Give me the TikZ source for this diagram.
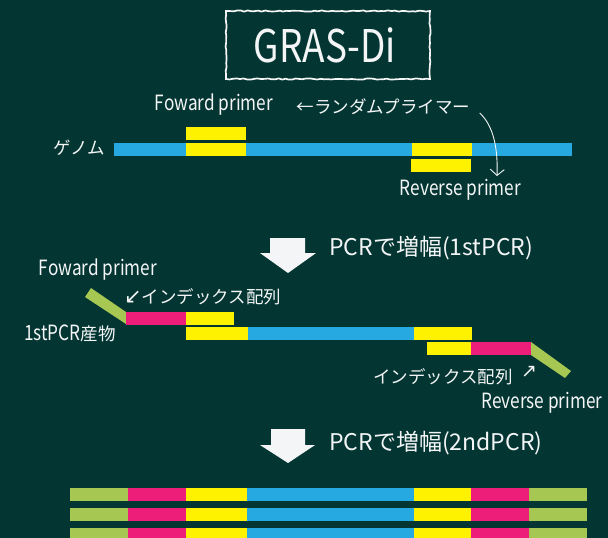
\documentclass[tikz,border=0pt]{standalone}
\usepackage{fontspec}
\setmainfont{Noto Sans CJK JP}
\newfontfamily\latinfont{Noto Sans CJK JP}[FakeStretch=0.82]
\newfontfamily\symfont{DejaVu Sans}
\usetikzlibrary{arrows.meta,calc,decorations.pathmorphing}

\definecolor{board}{RGB}{3,54,50}
\definecolor{chalk}{RGB}{244,245,246}
\definecolor{dnablue}{RGB}{38,169,224}
\definecolor{primeryellow}{RGB}{255,242,0}
\definecolor{indexpink}{RGB}{237,30,121}
\definecolor{adaptergreen}{RGB}{166,200,83}

% one strand segment: x from #1 to #2, top edge at #3, fill colour #4
\newcommand\strandseg[4]{\fill[#4] (#1,#3) rectangle (#2,#3+13);}
% narrow latin run inside a Japanese label
\newcommand\latinrun[1]{{\latinfont\fontsize{21}{22}\selectfont #1}}

\begin{document}
\begin{tikzpicture}[x=1pt,y=-1pt,
  txt/.style={text=chalk, inner sep=0pt},
  latinlabel/.style={txt, font=\latinfont\fontsize{21}{22}\selectfont},
  jplabel/.style={txt, font=\fontsize{17.5}{18}\selectfont},
  heading/.style={txt, anchor=west, font=\fontsize{23}{24}\selectfont},
  titletext/.style={txt, font=\latinfont\fontsize{45}{46}\selectfont},
  chalkframe/.style={draw=chalk, line width=1.7pt,
    decorate, decoration={random steps, segment length=3.5pt, amplitude=0.6pt}},
  bigarrow/.style={fill=chalk},
  pointer/.style={draw=chalk, line width=0.9pt,
    -{Straight Barb[length=6pt,width=14pt]}}]

\fill[board] (0,0) rectangle (608,538);
\useasboundingbox (0,0) rectangle (608,538);

% title
\pgfmathsetseed{7}
\node[titletext] (title) at (325,45) {GRAS-Di};
\draw[chalkframe] (226,11) rectangle (430,79);

% genome with random primers
\node[latinlabel] (fwd1) at (214,105) {Foward primer};
\node[jplabel] (rand) at (383.5,107) {←ランダムプライマー};
\node[jplabel] (genome) at (79,148) {ゲノム};
\node[latinlabel] (rev1) at (460.5,190) {Reverse primer};

\strandseg{114}{572}{143}{dnablue}
\strandseg{186}{246}{143}{primeryellow}
\strandseg{412}{472}{143}{primeryellow}
\strandseg{186}{246}{127}{primeryellow}
\strandseg{411}{471}{159}{primeryellow}

\draw[pointer] ($(rand.east)+(9,6)$) .. controls (494,126) and (498,150) .. (497,176);

% first PCR
\fill[bigarrow] (270,238) -- (305,238) -- (305,253) -- (316,253) -- (288,273)
  -- (260,253) -- (270,253) -- cycle;
\node[heading] (pcr1) at (329,248) {PCRで増幅(1stPCR)};

\node[latinlabel] (fwd2) at (98,270) {Foward primer};
\node[jplabel, anchor=west] (idx1) at (124,297) {{\symfont\fontsize{21}{22}\selectfont ↙}インデックス配列};
\node[jplabel] (prod) at (70,333) {\latinrun{1stPCR}産物};

\fill[adaptergreen] (85,297) -- (91,288) -- (126,312) -- (126,324) -- cycle;
\strandseg{126}{186}{312}{indexpink}
\strandseg{186}{234}{312}{primeryellow}

\strandseg{186}{248}{327}{primeryellow}
\strandseg{248}{414}{327}{dnablue}
\strandseg{414}{472}{327}{primeryellow}

\strandseg{427}{471}{342}{primeryellow}
\strandseg{471}{531}{342}{indexpink}
\fill[adaptergreen] (531,342) -- (571,371) -- (565,378) -- (531,355) -- cycle;

\node[jplabel] (idx2) at (443,377) {インデックス配列};
\node[txt, font=\symfont\fontsize{19}{20}\selectfont] (idx2mark) at (529,372) {↗};
\node[latinlabel] (rev2) at (542,403) {Reverse primer};

% second PCR
\fill[bigarrow] (271,429) -- (305,429) -- (305,445) -- (315,445) -- (288,463)
  -- (260,445) -- (271,445) -- cycle;
\node[heading] (pcr2) at (329,443) {PCRで増幅(2ndPCR)};

\foreach \row in {488,508,528}{
  \strandseg{70}{128}{\row}{adaptergreen}
  \strandseg{128}{186}{\row}{indexpink}
  \strandseg{186}{247}{\row}{primeryellow}
  \strandseg{247}{414}{\row}{dnablue}
  \strandseg{414}{471}{\row}{primeryellow}
  \strandseg{471}{529}{\row}{indexpink}
  \strandseg{529}{587}{\row}{adaptergreen}
}
\end{tikzpicture}
\end{document}
